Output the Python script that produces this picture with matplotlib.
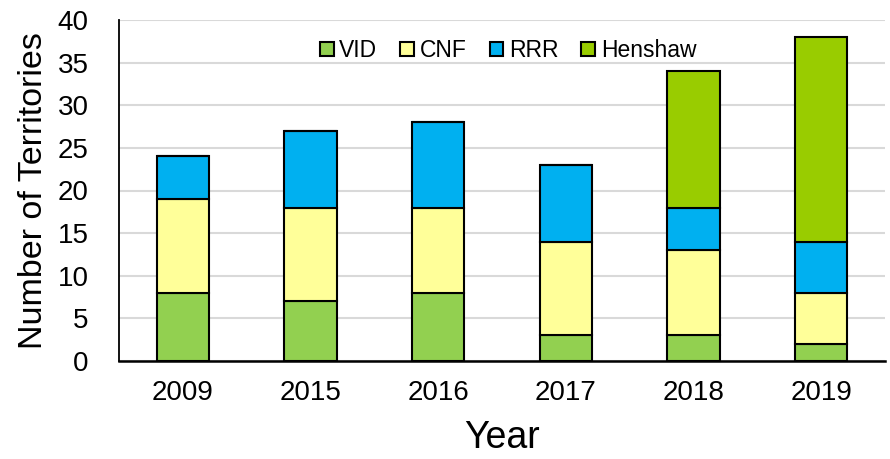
import matplotlib
matplotlib.use("Agg")
import matplotlib.pyplot as plt
import numpy as np

years = ["2009", "2015", "2016", "2017", "2018", "2019"]
vid = [8, 7, 8, 3, 3, 2]
cnf = [11, 11, 10, 11, 10, 6]
rrr = [5, 9, 10, 9, 5, 6]
henshaw = [0, 0, 0, 0, 16, 24]

series = [("VID", vid, "#92D050"), ("CNF", cnf, "#FFFF99"),
          ("RRR", rrr, "#00B0F0"), ("Henshaw", henshaw, "#99CC00")]

plt.rcParams['font.family'] = ['Liberation Sans', 'DejaVu Sans']

fig = plt.figure(figsize=(8.9, 4.59), dpi=100)
ax = fig.add_axes([119/890, 1-361/459, (885-119)/890, (361-20)/459])

x = np.arange(len(years))
bottom = np.zeros(len(years))
for name, vals, col in series:
    v = np.array(vals, dtype=float)
    ax.bar(x, v, 0.41, bottom=bottom, color=col, edgecolor="black",
           linewidth=1.5, label=name, zorder=3)
    bottom += v

ax.set_xlim(-0.5, len(years) - 0.5)
ax.set_ylim(0, 40)
ax.set_yticks(range(0, 41, 5))
ax.set_xticks(x)
ax.set_xticklabels(years)
ax.tick_params(axis='both', labelsize=20, length=0)
ax.tick_params(axis='x', pad=14)
ax.tick_params(axis='y', pad=22)
ax.grid(axis='y', color="#D9D9D9", linewidth=1.5, zorder=0)
for s in ["top", "right"]:
    ax.spines[s].set_visible(False)
ax.spines["left"].set_linewidth(1.3)
ax.spines["bottom"].set_linewidth(1.8)
ax.set_ylabel("Number of Territories", fontsize=24.5, labelpad=6)
ax.set_xlabel("Year", fontsize=27, labelpad=10)

leg = ax.legend(ncol=4, loc="upper center", bbox_to_anchor=(0.508, 0.985),
                frameon=False, fontsize=16.5, handlelength=0.6, handleheight=0.6,
                handletextpad=0.25, columnspacing=1.0, borderaxespad=0.2)

fig.savefig("out.png", dpi=100)
